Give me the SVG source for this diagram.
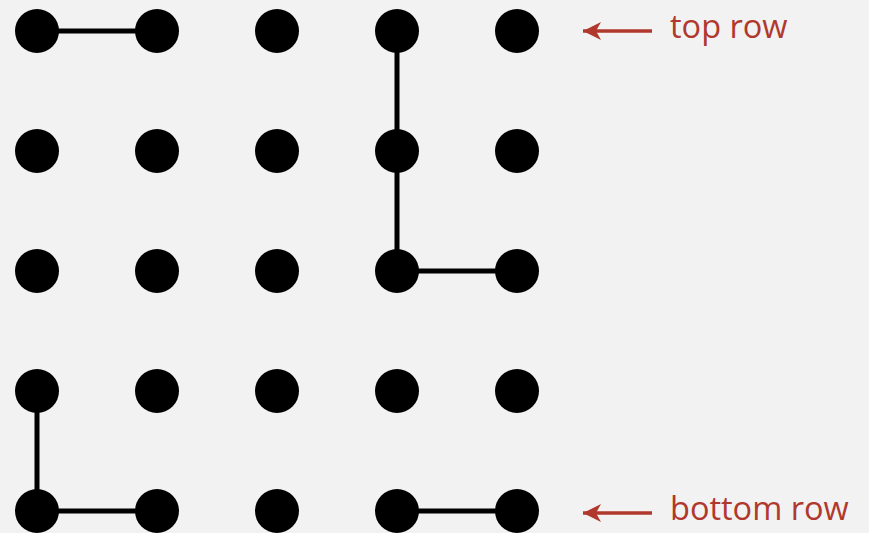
<svg xmlns="http://www.w3.org/2000/svg" width="869" height="533" viewBox="0 0 869 533">
<defs>
<style>
.dot{fill:#000}
.edge{stroke:#000;stroke-width:5;fill:none}
.arr{stroke:#b0382d;stroke-width:3.5;fill:none}
.lbl{font-family:"Open Sans",sans-serif;font-size:32.5px;fill:#b0382d}
</style>
<marker id="ah" markerUnits="userSpaceOnUse" markerWidth="20" markerHeight="20" viewBox="0 0 20 20" refX="19" refY="10" orient="auto">
<path d="M19,10 L1,1 L6,10 L1,19 Z" fill="#b0382d"/>
</marker>
</defs>
<rect width="869" height="533" fill="#f2f2f2"/>
<g id="connectors">
<line class="edge" x1="37" y1="31" x2="157" y2="31"/>
<line class="edge" x1="397" y1="31" x2="397" y2="271"/>
<line class="edge" x1="397" y1="271" x2="517" y2="271"/>
<line class="edge" x1="37" y1="391" x2="37" y2="511"/>
<line class="edge" x1="37" y1="511" x2="157" y2="511"/>
<line class="edge" x1="397" y1="511" x2="517" y2="511"/>
<line class="arr" x1="652" y1="31" x2="583" y2="31" marker-end="url(#ah)"/>
<line class="arr" x1="652" y1="513" x2="583" y2="513" marker-end="url(#ah)"/>
</g>
<g id="n00"><circle class="dot" cx="37" cy="31" r="22"/></g>
<g id="n01"><circle class="dot" cx="157" cy="31" r="22"/></g>
<g id="n02"><circle class="dot" cx="277" cy="31" r="22"/></g>
<g id="n03"><circle class="dot" cx="397" cy="31" r="22"/></g>
<g id="n04"><circle class="dot" cx="517" cy="31" r="22"/></g>
<g id="n10"><circle class="dot" cx="37" cy="151" r="22"/></g>
<g id="n11"><circle class="dot" cx="157" cy="151" r="22"/></g>
<g id="n12"><circle class="dot" cx="277" cy="151" r="22"/></g>
<g id="n13"><circle class="dot" cx="397" cy="151" r="22"/></g>
<g id="n14"><circle class="dot" cx="517" cy="151" r="22"/></g>
<g id="n20"><circle class="dot" cx="37" cy="271" r="22"/></g>
<g id="n21"><circle class="dot" cx="157" cy="271" r="22"/></g>
<g id="n22"><circle class="dot" cx="277" cy="271" r="22"/></g>
<g id="n23"><circle class="dot" cx="397" cy="271" r="22"/></g>
<g id="n24"><circle class="dot" cx="517" cy="271" r="22"/></g>
<g id="n30"><circle class="dot" cx="37" cy="391" r="22"/></g>
<g id="n31"><circle class="dot" cx="157" cy="391" r="22"/></g>
<g id="n32"><circle class="dot" cx="277" cy="391" r="22"/></g>
<g id="n33"><circle class="dot" cx="397" cy="391" r="22"/></g>
<g id="n34"><circle class="dot" cx="517" cy="391" r="22"/></g>
<g id="n40"><circle class="dot" cx="37" cy="511" r="22"/></g>
<g id="n41"><circle class="dot" cx="157" cy="511" r="22"/></g>
<g id="n42"><circle class="dot" cx="277" cy="511" r="22"/></g>
<g id="n43"><circle class="dot" cx="397" cy="511" r="22"/></g>
<g id="n44"><circle class="dot" cx="517" cy="511" r="22"/></g>
<g id="label-top"><text class="lbl" x="670" y="38">top row</text></g>
<g id="label-bottom"><text class="lbl" x="670" y="520">bottom row</text></g>
</svg>
